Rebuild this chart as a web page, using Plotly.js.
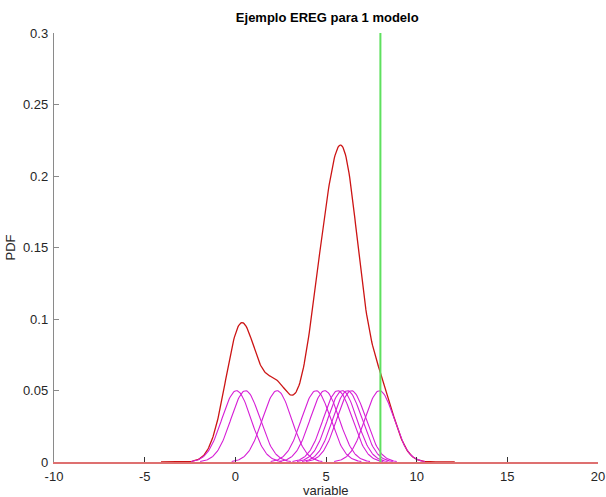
<!DOCTYPE html>
<html>
<head>
<meta charset="utf-8">
<script src="https://cdn.plot.ly/plotly-3.0.1.min.js"></script>
<style>html,body{margin:0;padding:0;background:#fff;}#chart{width:606px;height:497px;}</style>
</head>
<body>
<div id="chart"></div>
<script>
// Sample points (kernel centres)
var sampleCenters = [0.06, 0.56, 2.30, 4.45, 4.93, 5.65, 5.90, 6.18, 6.40, 7.95];
var bandwidth = 0.8;          // kernel width (sigma)
var thresholdX = 8;           // green vertical line
var thresholdY = [0, 0.3];
var densityRange = [-4.1, 12.1];
var kernelHalfWidth = 2.5;
var xTickVals = [-10, -5, 0, 5, 10, 15, 20];
var xTickText = ['-10', '-5', '0', '5', '10', '15', '20'];
var yTickVals = [0, 0.05, 0.1, 0.15, 0.2, 0.25, 0.3];
var yTickText = ['0', '0.05', '0.1', '0.15', '0.2', '0.25', '0.3'];
var xLabel = 'variable';

var n = sampleCenters.length;
var amp = 1 / (n * bandwidth * Math.sqrt(2 * Math.PI));
function kern(x, c) { var d = (x - c) / bandwidth; return amp * Math.exp(-0.5 * d * d); }

var traces = [];
// total density (red)
var rx = [], ry = [];
for (var i = 0; i <= 400; i++) {
  var x = densityRange[0] + (densityRange[1] - densityRange[0]) * i / 400;
  var s = 0;
  for (var k = 0; k < n; k++) s += kern(x, sampleCenters[k]);
  rx.push(x); ry.push(s);
}
traces.push({x: rx, y: ry, mode: 'lines', line: {color: '#cc1414', width: 1.3}, hoverinfo: 'skip'});
// individual kernels (magenta)
sampleCenters.forEach(function (c) {
  var kx = [], ky = [];
  for (var j = 0; j <= 100; j++) {
    var x = c - kernelHalfWidth + 2 * kernelHalfWidth * j / 100;
    kx.push(x); ky.push(kern(x, c));
  }
  traces.push({x: kx, y: ky, mode: 'lines', line: {color: '#d61ed6', width: 1.1}, hoverinfo: 'skip'});
});
// threshold line (green)
traces.push({x: [thresholdX, thresholdX], y: thresholdY, mode: 'lines', line: {color: '#5ee05e', width: 2}, hoverinfo: 'skip'});

var font = {family: 'Liberation Sans, Arial, sans-serif', size: 13, color: '#262626'};
var layout = {
  width: 606, height: 497,
  margin: {l: 54, r: 8, t: 33, b: 35},
  paper_bgcolor: '#fff', plot_bgcolor: '#fff',
  showlegend: false,
  font: font,
  title: {text: '<b>Ejemplo EREG para 1 modelo</b>', font: {family: 'Liberation Sans, Arial, sans-serif', size: 13, color: '#000'}, x: 0.54, xanchor: 'center', y: 0.965, yanchor: 'middle'},
  xaxis: {
    range: [-10, 20], tickvals: xTickVals, ticktext: xTickText,
    showgrid: false, zeroline: false, showline: true, linecolor: '#de7070', linewidth: 1.5,
    ticks: 'inside', ticklen: 5, tickcolor: '#333', tickfont: font, ticklabelstandoff: 2
  },
  yaxis: {
    range: [0, 0.3], tickvals: yTickVals, ticktext: yTickText,
    showgrid: false, zeroline: false, showline: true, linecolor: '#8a8a8a', linewidth: 1.2,
    ticks: 'inside', ticklen: 5, tickcolor: '#8a8a8a', tickfont: font, ticklabelstandoff: 2,
    title: {text: 'PDF', font: font, standoff: 4}
  },
  annotations: [{
    text: xLabel, xref: 'paper', yref: 'paper', x: 0.5, y: -0.066,
    xanchor: 'center', yanchor: 'middle', showarrow: false, font: font
  }]
};
Plotly.newPlot('chart', traces, layout, {displayModeBar: false, staticPlot: true});
</script>
</body>
</html>
